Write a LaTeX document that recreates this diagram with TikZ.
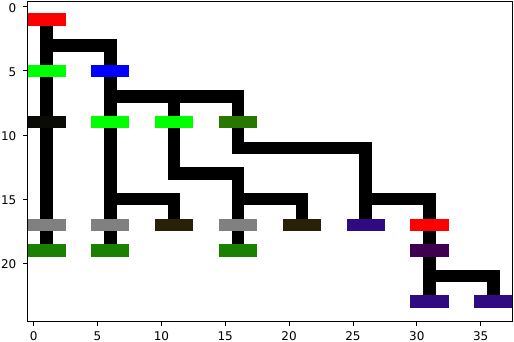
\documentclass[tikz,border=0pt]{standalone}
\usepackage{fontspec}
\setmainfont{DejaVu Sans}
\pgfdeclarelayer{bg}
\pgfsetlayers{bg,main}
\definecolor{cred}{HTML}{FF0000}
\definecolor{clime}{HTML}{00FF00}
\definecolor{cblue}{HTML}{0000FF}
\definecolor{cnear}{HTML}{0A0A06}
\definecolor{cdg}{HTML}{287800}
\definecolor{cgray}{HTML}{808080}
\definecolor{cbrown}{HTML}{282008}
\definecolor{cgreen}{HTML}{1A8000}
\definecolor{cind}{HTML}{300A80}
\definecolor{cpur}{HTML}{400050}
\begin{document}
\begin{tikzpicture}[x=1pt,y=-1pt,
  bar/.style={rectangle,draw=none,inner sep=0pt,outer sep=0pt,minimum width=38.3pt,minimum height=12.4pt},
  tree/.style={line width=12.6pt,line cap=rect,line join=miter,black},
  ticklbl/.style={inner sep=0pt,font=\fontsize{12}{14}\selectfont}]
\useasboundingbox (0,0) rectangle (514,342);
\clip (0,0) rectangle (514,342);
\begin{scope}[shift={(33.7,6.8)},x=12.77pt,y=-12.82pt]
  % bars
  \node[bar,fill=cred]   (r0)   at (1,1) {};
  \node[bar,fill=clime]  (g5a)  at (1,5) {};
  \node[bar,fill=cblue]  (b5)   at (6,5) {};
  \node[bar,fill=cnear]  (k9)   at (1,9) {};
  \node[bar,fill=clime]  (g9a)  at (6,9) {};
  \node[bar,fill=clime]  (g9b)  at (11,9) {};
  \node[bar,fill=cdg]    (d9)   at (16,9) {};
  \node[bar,fill=cgray]  (s17a) at (1,17) {};
  \node[bar,fill=cgray]  (s17b) at (6,17) {};
  \node[bar,fill=cbrown] (br17a) at (11,17) {};
  \node[bar,fill=cgray]  (s17c) at (16,17) {};
  \node[bar,fill=cbrown] (br17b) at (21,17) {};
  \node[bar,fill=cind]   (in17) at (26,17) {};
  \node[bar,fill=cred]   (r17)  at (31,17) {};
  \node[bar,fill=cgreen] (dg19a) at (1,19) {};
  \node[bar,fill=cgreen] (dg19b) at (6,19) {};
  \node[bar,fill=cgreen] (dg19c) at (16,19) {};
  \node[bar,fill=cpur]   (pu19) at (31,19) {};
  \node[bar,fill=cind]   (in23a) at (31,23) {};
  \node[bar,fill=cind]   (in23b) at (36,23) {};
  % junctions
  \coordinate (j3) at (1,3);
  \coordinate (j7) at (6,7);
  \coordinate (j7b) at (11,7);
  \coordinate (j11) at (16,11);
  \coordinate (j13) at (16,13);
  \coordinate (j15a) at (6,15);
  \coordinate (j15b) at (16,15);
  \coordinate (j15c) at (26,15);
  \coordinate (j21) at (31,21);
  \begin{pgfonlayer}{bg}
    \draw[tree] (r0.center) -- (dg19a.center);
    \draw[tree] (j3) -| (dg19b.center);
    \draw[tree] (j7) -| (j11) -| (in17.center);
    \draw[tree] (j7b) |- (j13) -- (dg19c.center);
    \draw[tree] (j15a) -| (br17a.center);
    \draw[tree] (j15b) -| (br17b.center);
    \draw[tree] (j15c) -| (in23a.center);
    \draw[tree] (j21) -| (in23b.center);
  \end{pgfonlayer}
\end{scope}
% axes frame
\draw[line width=0.9pt] (27.3,1.5) rectangle (512.9,321.5);
\foreach \v in {0,5,...,35}{
  \pgfmathsetmacro{\px}{33.7+12.77*\v}
  \draw[line width=0.9pt] (\px,321.5) -- (\px,325.5);
  \node[ticklbl,anchor=base] at (\px,340) {\v};
}
\foreach \v in {0,5,...,20}{
  \pgfmathsetmacro{\py}{6.8+12.82*\v}
  \draw[line width=0.9pt] (27.3,\py) -- (23.3,\py);
  \node[ticklbl,anchor=base east] at (16.5,\py+5.6) {\v};
}
\end{tikzpicture}
\end{document}
